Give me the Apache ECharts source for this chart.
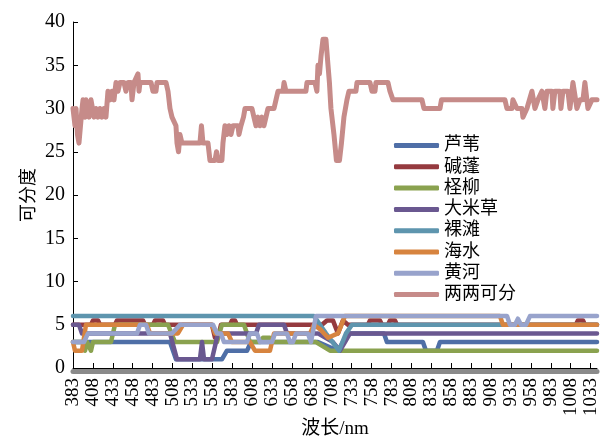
<!DOCTYPE html>
<html>
<head>
<meta charset="utf-8">
<script src="https://cdn.jsdelivr.net/npm/echarts@6/dist/echarts.min.js"></script>
<style>
  html, body { margin: 0; padding: 0; background: #fff; }
  #chart { width: 602px; height: 437px; }
</style>
</head>
<body>
<div id="chart"></div>
<script>
// Separability per land-cover class along wavelength (nm): [wavelength, value]
const wavelengthTicks = [383, 408, 433, 458, 483, 508, 533, 558, 583, 608, 633, 658, 683, 708,
  733, 758, 783, 808, 833, 858, 883, 908, 933, 958, 983, 1008, 1033];

const reed = [[383,3],[504.8,3],[512.3,1],[570,1],[576.3,2],[601.5,2],[606.5,3],[690.6,3],
  [715.7,2],[728.3,4],[773.5,4],[777.2,3],[822.4,3],[826.2,2],[840,2],[843.8,3],[1041,3]];

const suaeda = [[383,5],[405.6,5],[408.1,5.5],[414.4,5.5],[416.9,5],[435.7,5],[438.2,5.5],
  [470.9,5.5],[473.4,5],[483.4,5],[486,5.5],[496,5.5],[498.5,5],[557.5,5],[561.3,3.5],[565,3.5],
  [568.8,5],[580.1,5],[582.6,5.5],[586.4,5.5],[588.9,5],[695.6,5],[701.9,5.5],[709.4,5.5],
  [715.7,4],[722,5.5],[728.3,5],[753.4,5],[755.9,5.5],[768.4,5.5],[771,5],[778.5,5],[781,5.5],
  [787.3,5.5],[789.8,5],[1014.5,5],[1017,5.5],[1023.4,5.5],[1025.8,5],[1041,5]];

const tamarix = [[383,3],[395.6,3],[398.1,2],[400.6,3],[403.1,3],[405.6,2],[408.1,3],[430.7,3],
  [435.7,5],[502.3,5],[511.1,3],[563.8,3],[570,5],[597.7,5],[605.2,3],[617.8,3],[621.5,3.5],
  [630.3,3.5],[634.1,3],[688.1,3],[705.7,2],[1041,2]];

const spartina = [[383,5],[390.5,5],[394.3,4],[504.8,4],[513.6,1],[542.4,1],[545,3],[547.5,1],
  [557.5,1],[565,4],[612.8,4],[616.5,5],[648,5],[651.7,4],[690.6,4],[709.4,3],[718.2,2],
  [724.5,3],[730.8,4],[1041,4]];

const mudflat = [[383,6],[685.6,6],[700.6,4],[717,2],[725.8,4],[733.3,5],[1041,5]];

const seawater = [[383,3],[385.5,2],[394.3,2],[399.3,5],[475.9,5],[479.7,4],[514.8,4],[521.1,5],
  [557.5,5],[561.3,4],[577.6,4],[582.6,3],[605.2,3],[611.5,2],[630.3,2],[635.4,4],[680.6,4],
  [685.6,5],[693.1,4.5],[703.2,3.5],[715.7,4],[724.5,6],[919.1,6],[922.9,5],[1041,5]];

const yellowRiver = [[383,3],[396.8,3],[401.8,4],[463.4,4],[467.1,5],[474.7,5],[478.4,4],
  [507.3,4],[517.3,5],[558.8,5],[563.8,4],[568.8,4],[572.6,3],[601.5,3],[605.2,4],[614,4],
  [617.8,3],[632.9,3],[636.6,4],[651.7,4],[655.4,3],[659.2,3],[663,4],[678,4],[681.8,3],
  [688.1,6],[928,6],[931.7,5],[938,5],[941.7,5.7],[945.5,5],[951.8,5],[956.8,6],[1041,6]];

const pairwise = [[383,30],[385.5,28],[386.8,30],[388.6,27],[390.5,26],[392.4,28],[394.3,30],
  [395.6,31],[398.1,29],[399.3,31],[401.8,31],[403.1,29],[405.6,31],[408.1,31],[409.4,29],
  [411.9,30],[414.4,29],[416.9,30],[419.4,29],[421.9,30],[424.4,29],[426.9,32],[429.5,31],
  [432,32],[434.5,31],[437,33],[439.5,32],[442,33],[447,33],[449.5,32],[452.1,33],[455.8,33],
  [457.1,31],[459.6,33],[462.1,33],[464.6,34],[465.9,32],[467.1,33],[481,33],[483.4,32],
  [487.2,32],[488.5,33],[499.8,33],[502.3,32],[504.8,30],[507.3,29],[509.8,29],[512.3,28],
  [513.6,26],[515.5,25],[517.3,27],[519.8,26],[542.4,26],[544.3,28],[546.2,26],[552.5,26],
  [555,24],[561.3,24],[563.2,25],[565,24],[570,24],[571.3,26],[573.8,28],[576.3,27],[578.9,28],
  [581.4,27],[583.9,28],[590.2,28],[591.4,27],[593.9,28],[597.1,29],[599,30],[607.7,30],
  [610.2,29],[612.8,28],[615.3,29],[617.8,28],[620.3,29],[622.8,28],[625.3,29],[627.8,30],
  [635.4,30],[637.9,31],[640.4,32],[646.7,32],[648,33],[650.4,32],[675.5,32],[676.8,33],
  [686.8,33],[689.3,32],[690.6,35],[692.5,34],[694.4,36],[696.9,38],[700.6,38],[703.2,35],
  [705,33],[706.9,30],[710.7,27],[713.8,24],[717.6,24],[720.1,26],[723.2,29],[727,31],
  [729.5,32],[738.3,32],[739.6,33],[755.9,33],[758.4,32],[762.2,32],[763.4,33],[778.5,33],
  [781,32],[784.8,31],[821.2,31],[823.7,30],[843.8,30],[845.7,31],[925.4,31],[927.9,30],
  [934.2,30],[935.4,31],[940.5,30],[946.8,30],[948,29],[953,30],[959.3,32],[963.1,30],
  [966.8,31],[971.8,32],[975.6,30],[978.1,32],[984.4,32],[985.6,30],[988.1,32],[994.4,32],
  [995.7,30],[998.2,32],[1004.5,32],[1007,30],[1010.8,33],[1015.8,30],[1019.6,31],
  [1023.4,31],[1025.8,33],[1029.6,30],[1034.6,31],[1041,31]];

const seriesNames = ['芦苇', '碱蓬', '柽柳', '大米草', '裸滩', '海水', '黄河', '两两可分'];
const seriesData = [reed, suaeda, tamarix, spartina, mudflat, seawater, yellowRiver, pairwise];
const seriesColors = ['#4f6fa7', '#953a3f', '#8aa24f', '#6a5890', '#5e95ae', '#d7843f', '#98a3cc', '#c68b89'];

const FONT = "'Liberation Serif', 'Noto Sans CJK SC', serif";

const chart = echarts.init(document.getElementById('chart'), null, { renderer: 'canvas' });

chart.setOption({
  animation: false,
  backgroundColor: '#fff',
  color: seriesColors,
  grid: { left: 73, right: 5, top: 22, bottom: 69, containLabel: false, outerBoundsMode: 'none' },
  legend: {
    orient: 'vertical',
    left: 389,
    top: 130,
    icon: 'roundRect',
    itemWidth: 45,
    itemHeight: 5,
    itemGap: 0.3,
    data: seriesNames,
    textStyle: { fontFamily: FONT, fontSize: 18, color: '#000', lineHeight: 21 }
  },
  xAxis: [
    {
      // shaded base band under the axis (same scale as the main axis)
      type: 'value',
      min: 383,
      max: 1041,
      position: 'bottom',
      offset: 3,
      axisLine: { show: true, onZero: false, lineStyle: { color: '#8a8a8a', width: 5 } },
      axisTick: { show: false },
      axisLabel: { show: false },
      splitLine: { show: false }
    },
    {
      type: 'value',
      min: 383,
      max: 1041,
      position: 'bottom',
      name: '波长/nm',
      nameLocation: 'middle',
      nameGap: 52,
      nameMoveOverlap: false,
      nameTextStyle: { fontFamily: FONT, fontSize: 19, color: '#000' },
      axisLine: { show: true, onZero: false, lineStyle: { color: '#000', width: 1 } },
      axisTick: { inside: true, length: 5, customValues: wavelengthTicks, lineStyle: { color: '#000' } },
      axisLabel: {
        customValues: wavelengthTicks,
        formatter: (v) => String(v),
        rotate: 90,
        margin: 10,
        fontFamily: FONT,
        fontSize: 19,
        color: '#000'
      },
      splitLine: { show: false }
    }
  ],
  yAxis: {
    type: 'value',
    min: 0,
    max: 40,
    interval: 5,
    name: '可分度',
    nameLocation: 'middle',
    nameGap: 35,
    nameMoveOverlap: false,
    nameTextStyle: { fontFamily: FONT, fontSize: 18, color: '#000' },
    axisLine: { show: true, lineStyle: { color: '#000', width: 1 } },
    axisTick: { show: true, inside: true, length: 5, lineStyle: { color: '#000' } },
    axisLabel: { fontFamily: FONT, fontSize: 20, color: '#000', margin: 8 },
    splitLine: { show: false }
  },
  series: seriesNames.map((name, i) => ({
    name,
    type: 'line',
    data: seriesData[i],
    // the pairwise curve is bound to the base-band axis, the class curves to the labelled one
    xAxisIndex: i === 7 ? 0 : 1,
    showSymbol: false,
    symbol: 'none',
    lineStyle: {
      width: i === 7 ? 5 : 4.5,
      color: seriesColors[i],
      cap: 'round',
      join: 'round'
    },
    itemStyle: { color: seriesColors[i] },
    emphasis: { disabled: true }
  }))
});
</script>
</body>
</html>
